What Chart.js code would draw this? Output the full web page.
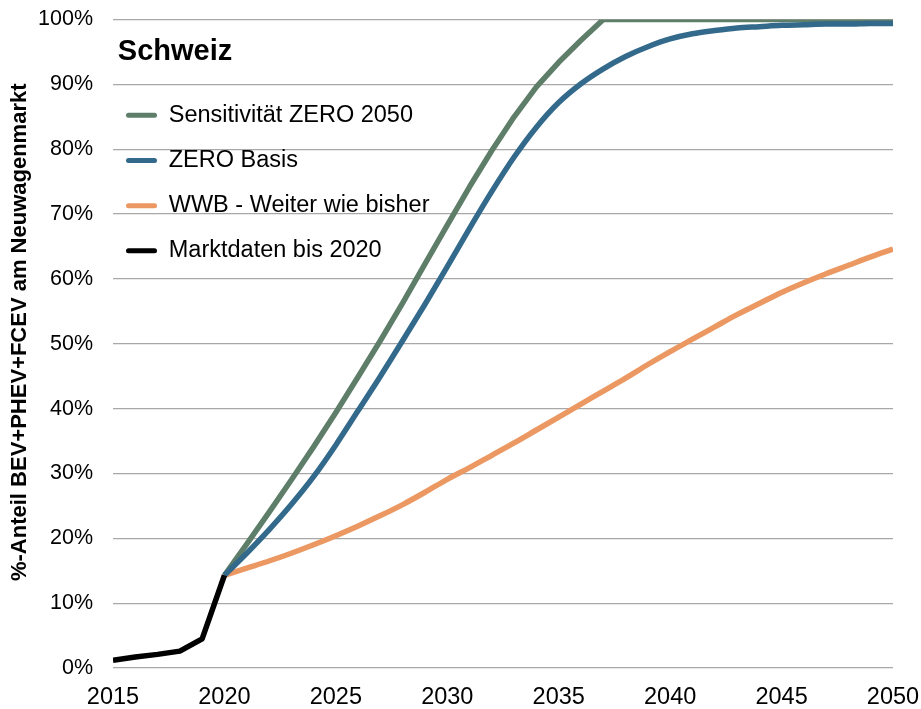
<!DOCTYPE html>
<html>
<head>
<meta charset="utf-8">
<script src="https://cdn.jsdelivr.net/npm/chart.js@4.4.1/dist/chart.umd.min.js"></script>
<style>
  html, body { margin: 0; padding: 0; background: #ffffff; }
  #wrap { width: 921px; height: 709px; position: relative; }
</style>
</head>
<body>
<div id="wrap"><canvas id="c"></canvas></div>
<script>
// ---- Data ----
const marketYears = [2015, 2016, 2017, 2018, 2019, 2020];
const marktdaten = [1.2, 1.7, 2.1, 2.6, 4.5, 14.3];

const scenarioYears = [2020, 2021, 2022, 2023, 2024, 2025, 2026, 2027, 2028, 2029,
                       2030, 2031, 2032, 2033, 2034, 2035, 2036, 2037, 2038, 2039,
                       2040, 2041, 2042, 2043, 2044, 2045, 2046, 2047, 2048, 2049, 2050];
const sensitivitaetZero2050 = [14.3, 19.1, 24.0, 29.0, 34.1, 39.4, 44.9, 50.5, 56.3, 62.3,
                               68.3, 74.2, 79.8, 85.0, 89.6, 93.4, 96.8, 100, 100, 100,
                               100, 100, 100, 100, 100, 100, 100, 100, 100, 100, 100];
const zeroBasis = [14.3, 17.7, 21.3, 25.2, 29.5, 34.4, 39.7, 45.0, 50.5, 56.1,
                   61.9, 67.8, 73.5, 78.8, 83.4, 87.2, 90.1, 92.4, 94.3, 95.8,
                   97.0, 97.8, 98.3, 98.7, 98.9, 99.1, 99.2, 99.3, 99.3, 99.4, 99.4];
const wwb = [14.3, 15.4, 16.5, 17.7, 19.0, 20.4, 21.9, 23.5, 25.2, 27.1,
             29.1, 30.9, 32.8, 34.7, 36.7, 38.7, 40.7, 42.7, 44.7, 46.8,
             48.8, 50.7, 52.6, 54.5, 56.2, 57.9, 59.4, 60.8, 62.1, 63.4, 64.6];

const seriesNames = ['Sensitivität ZERO 2050', 'ZERO Basis', 'WWB - Weiter wie bisher', 'Marktdaten bis 2020'];
const legendTitle = 'Schweiz';
const yAxisTitle = '%-Anteil BEV+PHEV+FCEV am Neuwagenmarkt';
const xMin = 2015, xMax = 2050, xStep = 5;
const yMin = 0, yMax = 100, yStep = 10;

// ---- Styles ----
const FONT = "'Liberation Sans', Arial, sans-serif";
const colors = { green: '#5E7E69', blue: '#336A8C', orange: '#EB9862', black: '#000000' };
const Y_TITLE_SHIFT = 11.5;

function pairs(xs, ys) { return xs.map((x, i) => ({ x: x, y: ys[i] })); }

// Places the legend (with its title) inside the plot area, top-left,
// and nudges the y-axis title along the axis like the reference
// (only while the axis layer is drawn, so dataset clipping is untouched).
const layoutTweaks = {
  id: 'layoutTweaks',
  afterLayout(chart) {
    const lg = chart.legend;
    const ca = chart.chartArea;
    if (lg) {
      lg.left = ca.left - 8.7;
      lg.top = ca.top + 18;
      lg.width = 141.4;            // used to centre the legend title
      lg.right = lg.left + 420;    // clip box wide enough for the labels
      lg.bottom = ca.bottom;
      lg.height = lg.bottom - lg.top;
    }
  },
  beforeDraw(chart) {
    const ys = chart.scales.y;
    if (ys) { ys.top -= Y_TITLE_SHIFT; ys.bottom -= Y_TITLE_SHIFT; }
  },
  beforeDatasetsDraw(chart) {
    const ys = chart.scales.y;
    if (ys) { ys.top += Y_TITLE_SHIFT; ys.bottom += Y_TITLE_SHIFT; }
  }
};

const lineBase = { borderWidth: 5.5, pointRadius: 0, pointHoverRadius: 0, borderJoinStyle: 'round', fill: false };

new Chart(document.getElementById('c'), {
  type: 'line',
  data: {
    datasets: [
      Object.assign({}, lineBase, { label: seriesNames[0], data: pairs(scenarioYears, sensitivitaetZero2050),
        borderColor: colors.green, backgroundColor: colors.green, order: 2, tension: 0 }),
      Object.assign({}, lineBase, { label: seriesNames[1], data: pairs(scenarioYears, zeroBasis),
        borderColor: colors.blue, backgroundColor: colors.blue, order: 1, cubicInterpolationMode: 'monotone' }),
      Object.assign({}, lineBase, { label: seriesNames[2], data: pairs(scenarioYears, wwb),
        borderColor: colors.orange, backgroundColor: colors.orange, order: 3, cubicInterpolationMode: 'monotone' }),
      Object.assign({}, lineBase, { label: seriesNames[3], data: pairs(marketYears, marktdaten),
        borderColor: colors.black, backgroundColor: colors.black, order: 0, tension: 0 })
    ]
  },
  options: {
    responsive: true,
    maintainAspectRatio: false,
    devicePixelRatio: 1,
    animation: false,
    layout: { padding: { left: 0, right: 28, top: 19.5, bottom: 0 } },
    plugins: {
      tooltip: { enabled: false },
      legend: {
        display: true,
        position: 'chartArea',
        align: 'start',
        title: {
          display: true,
          text: legendTitle,
          position: 'center',
          color: '#000000',
          padding: { top: 0, bottom: 9.5 },
          font: { family: "'Liberation Sans Narrow', 'Arial Narrow', 'Liberation Sans', sans-serif", size: 29, weight: 'bold' }
        },
        labels: {
          color: '#000000',
          font: { family: FONT, size: 23.5 },
          boxWidth: 31,
          boxHeight: 5,
          padding: 21.7,
          textAlign: 'left',
          useBorderRadius: true,
          borderRadius: 2.5,
          sort: (a, b) => a.datasetIndex - b.datasetIndex,
          generateLabels(chart) {
            const items = Chart.defaults.plugins.legend.labels.generateLabels(chart);
            return items.map(it => Object.assign(it, { lineWidth: 0, fillStyle: it.strokeStyle }));
          }
        }
      }
    },
    scales: {
      x: {
        type: 'linear',
        min: xMin,
        max: xMax,
        grid: { display: false, drawTicks: true, tickLength: 15, tickColor: 'rgba(0,0,0,0)' },
        border: { display: false },
        ticks: {
          stepSize: xStep,
          color: '#000000',
          font: { family: FONT, size: 23.5 },
          padding: 0,
          maxRotation: 0,
          autoSkip: false,
          callback: (v) => String(v)
        },
        afterFit(scale) { scale.height = 41; }
      },
      y: {
        min: yMin,
        max: yMax,
        grid: { color: '#a8a8a8', lineWidth: 1.3, drawTicks: true, tickLength: 20, tickColor: 'rgba(0,0,0,0)' },
        border: { display: false },
        ticks: {
          stepSize: yStep,
          color: '#000000',
          font: { family: FONT, size: 21.5 },
          padding: 0,
          callback: (v) => v + '%'
        },
        title: {
          display: true,
          text: yAxisTitle,
          color: '#000000',
          font: { family: FONT, size: 22, weight: 'bold' },
          padding: { top: 6.8, bottom: 0 }
        },
        afterFit(scale) { scale.width = 113; }
      }
    }
  },
  plugins: [layoutTweaks]
});
</script>
</body>
</html>
